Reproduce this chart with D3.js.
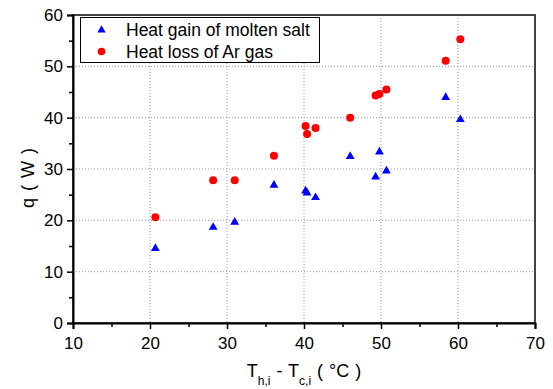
<!DOCTYPE html>
<html><head><meta charset="utf-8">
<script src="https://cdn.jsdelivr.net/npm/d3@7"></script>
<style>body{margin:0;background:#fff}svg{display:block}text{font-family:"Liberation Sans",Arial,sans-serif;fill:#000}</style>
</head><body>
<svg id="c" width="553" height="389"></svg>
<script>
const gainX = [20.7, 28.2, 31.0, 36.1, 40.2, 40.4, 41.5, 46.0, 49.3, 49.8, 50.7, 58.4, 60.3];
const gainY = [14.7, 18.8, 19.8, 27.0, 25.9, 25.5, 24.6, 32.6, 28.6, 33.5, 29.8, 44.1, 39.8];
const lossX = [20.7, 28.2, 31.0, 36.1, 40.2, 40.4, 41.5, 46.0, 49.3, 49.8, 50.7, 58.4, 60.3];
const lossY = [20.6, 27.8, 27.8, 32.6, 38.4, 36.8, 38.0, 40.0, 44.3, 44.6, 45.5, 51.1, 55.3];
const xTicks = [10, 20, 30, 40, 50, 60, 70];
const yTicks = [0, 10, 20, 30, 40, 50, 60];
const legendLabels = ["Heat gain of molten salt", "Heat loss of Ar gas"];

const svg = d3.select("#c");
const L = 73, R = 535, T = 15, B = 323;
const x = d3.scaleLinear().domain([10, 70]).range([L, R]);
const y = d3.scaleLinear().domain([0, 60]).range([B, T]);

// grid
const g = svg.append("g");
g.selectAll("line.vg").data(xTicks.slice(1, -1)).join("line")
  .attr("x1", d => x(d)).attr("x2", d => x(d)).attr("y1", T).attr("y2", B)
  .attr("stroke", "#999").attr("stroke-width", 1).attr("stroke-dasharray", "1,2");
g.selectAll("line.hg").data(yTicks.slice(1, -1)).join("line")
  .attr("y1", d => y(d)).attr("y2", d => y(d)).attr("x1", L).attr("x2", R)
  .attr("stroke", "#999").attr("stroke-width", 1).attr("stroke-dasharray", "1,2");

// frame
svg.append("rect").attr("x", L).attr("y", T).attr("width", R - L).attr("height", B - T)
  .attr("fill", "none").attr("stroke", "#444").attr("stroke-width", 2);

// axes
const xMinor = d3.range(15, 70, 10);
const yMinor = d3.range(5, 60, 10);
const xa = svg.append("g").attr("transform", `translate(0,${B})`)
  .call(d3.axisBottom(x).tickValues(xTicks).tickSize(6).tickPadding(4).tickFormat(d3.format("d")));
const ya = svg.append("g").attr("transform", `translate(${L},0)`)
  .call(d3.axisLeft(y).tickValues(yTicks).tickSize(6).tickPadding(4).tickFormat(d3.format("d")));
[xa, ya].forEach(a => {
  a.select(".domain").attr("stroke", "#000").attr("stroke-width", 2);
  a.selectAll(".tick line").attr("stroke", "#000").attr("stroke-width", 1.5);
  a.selectAll(".tick text").style("font-size", "17px").style("font-family", '"Liberation Sans",Arial,sans-serif');
});
xa.selectAll(".tick text").attr("dy", "0.95em");
svg.append("g").attr("transform", `translate(0,${B})`)
  .call(d3.axisBottom(x).tickValues(xMinor).tickSize(4).tickFormat(""))
  .call(a => { a.select(".domain").remove(); a.selectAll("line").attr("stroke", "#000").attr("stroke-width", 1.5); });
svg.append("g").attr("transform", `translate(${L},0)`)
  .call(d3.axisLeft(y).tickValues(yMinor).tickSize(4).tickFormat(""))
  .call(a => { a.select(".domain").remove(); a.selectAll("line").attr("stroke", "#000").attr("stroke-width", 1.5); });

// data
const tri = d3.symbol().type(d3.symbolTriangle).size(34);
svg.append("g").selectAll("path").data(gainX.map((d, i) => [d, gainY[i]])).join("path")
  .attr("d", tri).attr("transform", d => `translate(${x(d[0])},${y(d[1]) + 0.8})`).attr("fill", "#0000ff");
svg.append("g").selectAll("circle").data(lossX.map((d, i) => [d, lossY[i]])).join("circle")
  .attr("cx", d => x(d[0])).attr("cy", d => y(d[1])).attr("r", 4).attr("fill", "#ff0000");

// legend
const lg = svg.append("g");
lg.append("rect").attr("x", 80.5).attr("y", 17.5).attr("width", 239).attr("height", 45)
  .attr("fill", "#fff").attr("stroke", "#000").attr("stroke-width", 1);
lg.append("path").attr("d", d3.symbol().type(d3.symbolTriangle).size(30))
  .attr("transform", "translate(101.5,30)").attr("fill", "#0000ff");
lg.append("circle").attr("cx", 101.5).attr("cy", 51.5).attr("r", 3.8).attr("fill", "#ff0000");
lg.selectAll("text").data(legendLabels).join("text")
  .attr("x", 126).attr("y", (d, i) => 36 + i * 21.5).style("font-size", "17.5px").text(d => d);

// axis titles
svg.append("text").attr("transform", "translate(34,178) rotate(-90)").attr("text-anchor", "middle")
  .style("font-size", "18px").style("word-spacing", "2px").text("q ( W )");
const xt = svg.append("text").attr("x", 304).attr("y", 377).attr("text-anchor", "middle")
  .style("font-size", "18px").style("word-spacing", "1px");
xt.append("tspan").text("T");
xt.append("tspan").attr("dy", 8).style("font-size", "12px").text("h,i");
xt.append("tspan").attr("dy", -8).text(" - T");
xt.append("tspan").attr("dy", 8).style("font-size", "12px").text("c,i");
xt.append("tspan").attr("dy", -8).text(" ( °C )");
</script>
</body></html>
